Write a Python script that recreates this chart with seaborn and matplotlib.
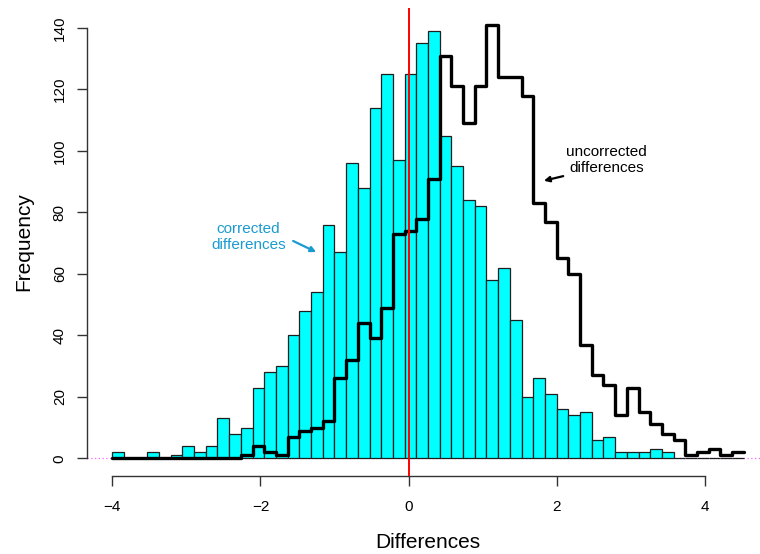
import numpy as np
import pandas as pd
import matplotlib
matplotlib.use("Agg")
import matplotlib.pyplot as plt
import seaborn as sns

# ---- data ----
bin_lo = -4.0
bin_hi = 4.52
n_bins = 54
corrected_counts = [2, 0, 0, 2, 0, 1, 4, 2, 4, 13, 8, 10, 23, 28, 30, 40, 48, 54,
                    76, 67, 96, 88, 114, 125, 97, 125, 135, 139, 105, 95, 84, 82,
                    58, 62, 45, 20, 26, 21, 16, 14, 15, 6, 7, 2, 2, 2, 3, 2,
                    0, 0, 0, 0, 0, 0]
uncorrected_counts = [0, 0, 0, 0, 0, 0, 0, 0, 0, 0, 0, 1, 4, 2, 1, 7, 9, 10,
                      12, 26, 32, 44, 39, 49, 73, 74, 78, 91, 131, 121, 109, 121,
                      141, 124, 124, 118, 83, 77, 65, 60, 37, 27, 24, 14, 23, 15,
                      11, 8, 6, 1, 2, 3, 1, 2]
x_ticks = [-4, -2, 0, 2, 4]
y_ticks = [0, 20, 40, 60, 80, 100, 120, 140]

edges = np.linspace(bin_lo, bin_hi, n_bins + 1)
centers = (edges[:-1] + edges[1:]) / 2
df = pd.DataFrame({"center": centers,
                   "corrected": corrected_counts,
                   "uncorrected": uncorrected_counts})
bin_list = edges.tolist()

sns.set_style("white")
plt.rcParams["font.family"] = ["Liberation Sans", "DejaVu Sans"]
plt.rcParams["text.color"] = "black"
plt.rcParams["axes.labelcolor"] = "black"

W, H = 760, 554
fig = plt.figure(figsize=(W / 100, H / 100), dpi=100)
ax = fig.add_axes([87 / W, (H - 475.6) / H, (769 - 87) / W, (475.6 - 7.7) / H])

sns.histplot(data=df, x="center", weights="corrected", bins=bin_list,
             color="#00FFFF", edgecolor="#1e1e1e", linewidth=0.9, alpha=1,
             ax=ax)
sns.histplot(data=df, x="center", weights="uncorrected", bins=bin_list,
             element="step", fill=False, color="black", linewidth=2.4, ax=ax)

ax.axhline(0, color="#ff66ff", linestyle=(0, (1, 2)), linewidth=0.9, zorder=0)
ax.axvline(0, color="#ff0000", linewidth=1.4, zorder=5)

ax.set_xlim(-4.34, 4.86)
ax.set_ylim(-5.64, 146.6)

for s in ["top", "right"]:
    ax.spines[s].set_visible(False)
for s in ["left", "bottom"]:
    ax.spines[s].set_color("#333333")
    ax.spines[s].set_linewidth(1.0)
ax.spines["left"].set_bounds(y_ticks[0], y_ticks[-1])
ax.spines["bottom"].set_bounds(x_ticks[0], x_ticks[-1])

ax.set_xticks(x_ticks)
ax.set_yticks(y_ticks)
ax.set_yticklabels([str(v) for v in y_ticks], rotation=90, va="center")
ax.tick_params(axis="both", direction="out", length=7, width=1.0,
               color="#333333", labelsize=11, labelcolor="black",
               left=True, bottom=True)
ax.tick_params(axis="x", pad=10.5)
ax.tick_params(axis="y", pad=7.5)

ax.set_xlabel("Differences", fontsize=15, labelpad=14, color="black")
ax.set_ylabel("Frequency", fontsize=15, labelpad=14, color="black")

blue = "#1a9bd0"
ax.text(-2.163, 72.0, "corrected\ndifferences", color=blue, fontsize=11,
        ha="center", va="center", linespacing=1.15)
ax.annotate("", xy=(-1.248, 67.1), xytext=(-1.559, 70.7),
            arrowprops=dict(arrowstyle="-|>", color=blue, lw=1.6,
                            mutation_scale=8, shrinkA=0, shrinkB=0))
ax.text(2.668, 97.0, "uncorrected\ndifferences", color="black", fontsize=11,
        ha="center", va="center", linespacing=1.15)
ax.annotate("", xy=(1.823, 90.3), xytext=(2.084, 91.8),
            arrowprops=dict(arrowstyle="-|>", color="black", lw=1.6,
                            mutation_scale=8, shrinkA=0, shrinkB=0))

fig.savefig("out.png", dpi=100)
